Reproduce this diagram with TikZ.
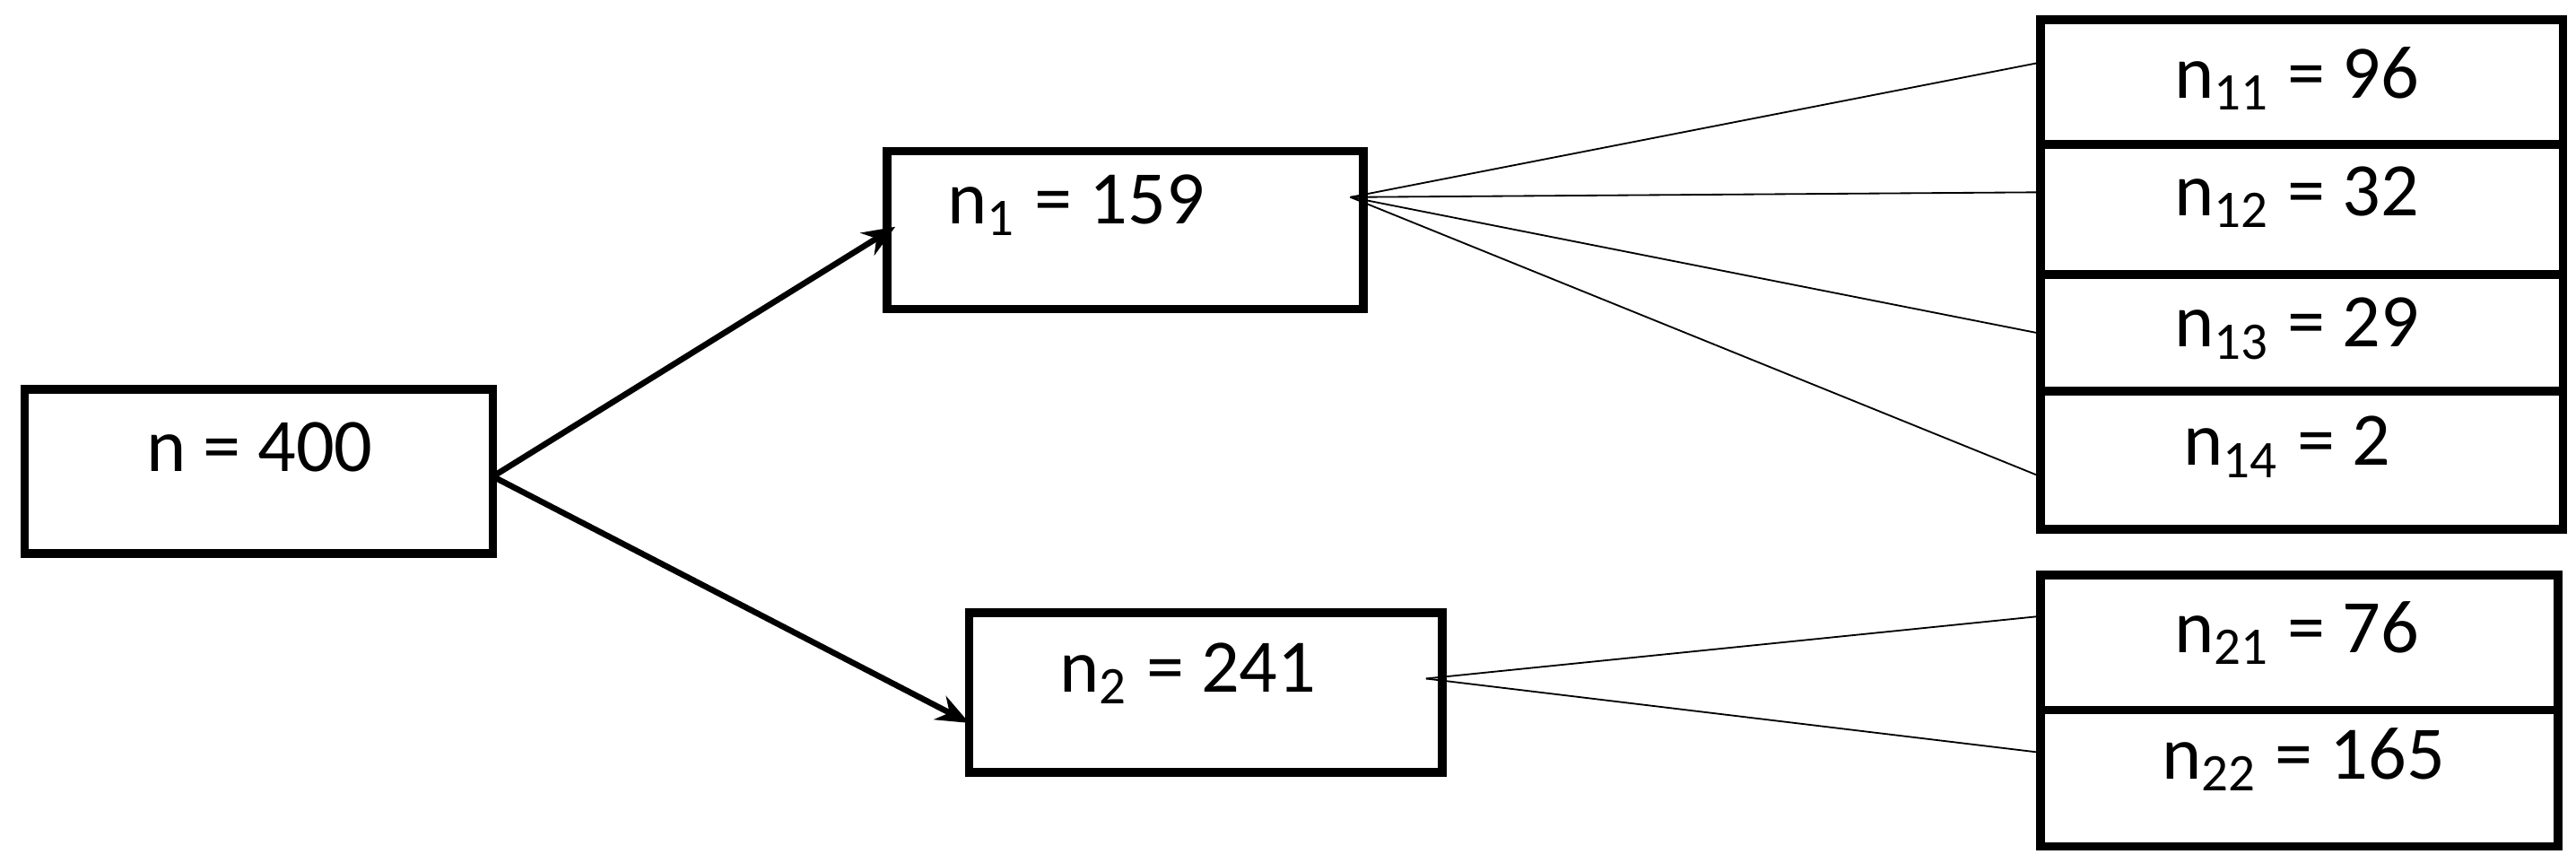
\documentclass[tikz,border=0pt]{standalone}
\usepackage{fontspec}
\setmainfont{Carlito}
\usetikzlibrary{arrows.meta}
\begin{document}
\begin{tikzpicture}[x=0.25pt,y=-0.25pt,
  bx/.style={draw,line width=1.3pt},
  lb/.style={font=\fontsize{11.5}{14}\selectfont,inner sep=0},
  thin/.style={line width=0.25pt},
  arr/.style={line width=0.9pt,-{Stealth[length=5pt,width=4pt]}}]
\useasboundingbox (0,0) rectangle (1568,525);
\draw[bx] (15,237) rectangle (300,337);
\draw[bx] (540,92) rectangle (830,188);
\draw[bx] (590,373) rectangle (878,470);
\draw[bx] (1242,12) rectangle (1560,322);
\draw[bx] (1242,88) -- (1560,88) (1242,167) -- (1560,167) (1242,238) -- (1560,238);
\draw[bx] (1242,350) rectangle (1557,515);
\draw[bx] (1242,432) -- (1557,432);
\node[lb] (t0) at (158,272) {n = 400};
\node[lb] (t1) at (655,125) {n\textsubscript{1} = 159};
\node[lb] (t2) at (723,410) {n\textsubscript{2} = 241};
\node[lb] (t11) at (1398,48) {n\textsubscript{11} = 96};
\node[lb] (t12) at (1398,120) {n\textsubscript{12} = 32};
\node[lb] (t13) at (1398,200) {n\textsubscript{13} = 29};
\node[lb] (t14) at (1392,272) {n\textsubscript{14} = 2};
\node[lb] (t21) at (1398,385) {n\textsubscript{21} = 76};
\node[lb] (t22) at (1402,462) {n\textsubscript{22} = 165};
\coordinate (s0) at (300,290);
\coordinate (e1) at (545,138);
\coordinate (e2) at (590,440);
\coordinate (s1) at (822,120);
\coordinate (s2) at (868,413);
\coordinate (r11) at (1242,38);
\coordinate (r12) at (1242,117);
\coordinate (r13) at (1242,203);
\coordinate (r14) at (1242,290);
\coordinate (r21) at (1242,375);
\coordinate (r22) at (1242,458);
\draw[arr] (s0) -- (e1);
\draw[arr] (s0) -- (e2);
\foreach \r in {r11,r12,r13,r14} \draw[thin] (s1) -- (\r);
\foreach \r in {r21,r22} \draw[thin] (s2) -- (\r);
\end{tikzpicture}
\end{document}
